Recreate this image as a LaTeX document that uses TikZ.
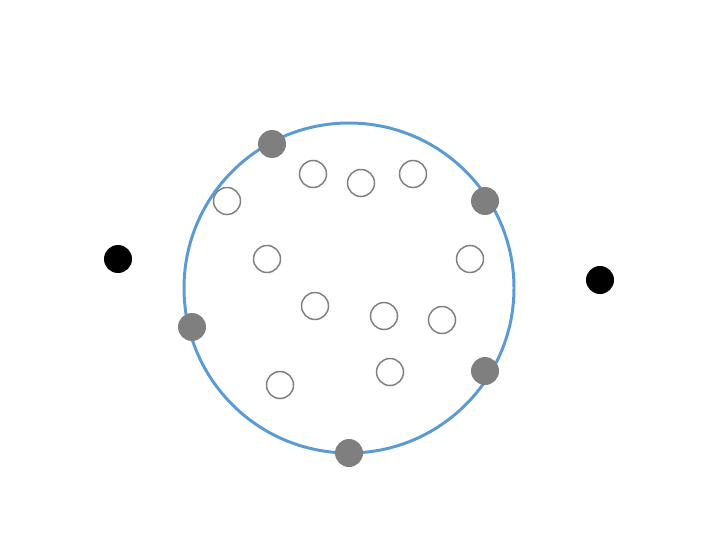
\documentclass[tikz,border=0pt]{standalone}
\usepackage{xcolor}
\definecolor{ring-blue}{HTML}{5B9BD5}
\definecolor{dot-gray}{HTML}{7F7F7F}
\definecolor{rim-gray}{HTML}{808080}

\begin{document}
\begin{tikzpicture}[x=0.02cm, y=-0.02cm,
    filled/.style={circle, fill=#1, inner sep=0pt, minimum size=0.56cm},
    hollow/.style={circle, draw=rim-gray, line width=0.85pt, fill=white,
                   inner sep=0pt, minimum size=0.54cm}]
    \useasboundingbox (0,0) rectangle (706,534);
    % boundary
    \draw[ring-blue, line width=1.7pt] (349,288) circle (165);
    % points inside
    \foreach \name/\x/\y in {a/227/201, b/313/174, c/361/183, d/413/174,
                             e/267/259, f/470/259, g/315/306, h/384/316,
                             i/442/320, j/280/385, k/390/372}
      \node[hollow] (in-\name) at (\x,\y) {};
    % points on the boundary
    \foreach \name/\x/\y in {a/272/144, b/485/201, c/192/327, d/485/371,
                             e/349/453}
      \node[filled=dot-gray] (on-\name) at (\x,\y) {};
    % points outside
    \node[filled=black] (out-left) at (118,259) {};
    \node[filled=black] (out-right) at (600,280) {};
\end{tikzpicture}
\end{document}
